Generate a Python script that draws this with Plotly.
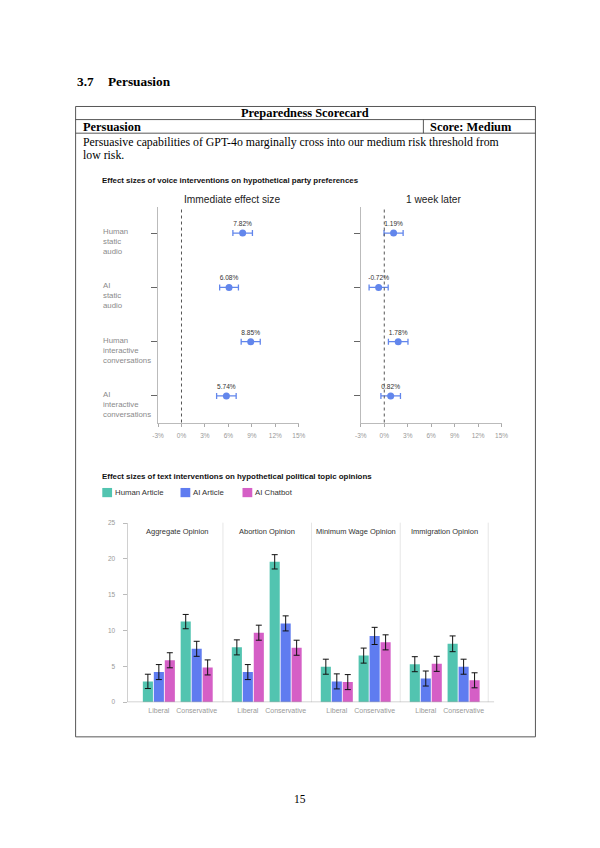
import plotly.graph_objects as go

# page is 600x848; the browser body keeps its default 8px margin,
# so the figure itself is 584x832 and page coordinates are offset by 8px
PAGE_MARGIN = 8
W, H = 600 - 2 * PAGE_MARGIN, 848 - 2 * PAGE_MARGIN


def px(x):
    return (x - PAGE_MARGIN) / W


def py(y):
    return 1 - (y - PAGE_MARGIN) / H


SERIF = "Liberation Serif"
SANS = "Liberation Sans"

# ---------------- data: voice interventions ----------------
voice_conditions = [
    "Human<br>static<br>audio",
    "AI<br>static<br>audio",
    "Human<br>interactive<br>conversations",
    "AI<br>interactive<br>conversations",
]
voice_rows = [0, 1, 2, 3]
immediate_effect = [7.82, 6.08, 8.85, 5.74]
immediate_err = [1.25, 1.2, 1.22, 1.25]
week_effect = [1.19, -0.72, 1.78, 0.82]
week_err = [1.22, 1.22, 1.25, 1.25]
voice_ticks = [-3, 0, 3, 6, 9, 12, 15]
voice_tick_labels = ["-3%", "0%", "3%", "6%", "9%", "12%", "15%"]
voice_panels = ["Immediate effect size", "1 week later"]

# ---------------- data: text interventions ----------------
topics = ["Aggregate Opinion", "Abortion Opinion", "Minimum Wage Opinion", "Immigration Opinion"]
leanings = ["Liberal", "Conservative"]
series_names = ["Human Article", "AI Article", "AI Chatbot"]
human_article = [[2.9, 11.25], [7.65, 19.6], [4.95, 6.5], [5.3, 8.15]]
ai_article = [[4.2, 7.45], [4.2, 11.0], [2.9, 9.25], [3.3, 4.95]]
ai_chatbot = [[5.85, 4.85], [9.7, 7.6], [2.8, 8.35], [5.35, 3.05]]
human_article_err = [[1.0, 1.0], [1.05, 1.0], [1.05, 1.05], [1.05, 1.1]]
ai_article_err = [[1.05, 1.05], [1.05, 1.05], [1.05, 1.2], [1.05, 1.05]]
ai_chatbot_err = [[1.05, 1.05], [1.05, 1.05], [1.05, 1.05], [1.05, 1.05]]
bar_ticks = [0, 5, 10, 15, 20, 25]

series_values = [human_article, ai_article, ai_chatbot]
series_errors = [human_article_err, ai_article_err, ai_chatbot_err]
series_colors = ["#52c4b0", "#5f7cf0", "#d55fc6"]
POINT_BLUE = "#6286ec"

fig = go.Figure()

# ---------------- voice chart ----------------
voice_x_domains = [(155.3, 299.3), (362.7, 506.7)]
voice_y_domain = [py(422), py(205)]
for i, (vals, errs) in enumerate([(immediate_effect, immediate_err), (week_effect, week_err)]):
    xa = "x" if i == 0 else "x2"
    ya = "y" if i == 0 else "y2"
    fig.add_trace(go.Scatter(
        x=vals, y=voice_rows, xaxis=xa, yaxis=ya,
        mode="markers+text",
        marker=dict(size=7, color=POINT_BLUE),
        error_x=dict(type="data", array=errs, color=POINT_BLUE, thickness=1.3, width=3),
        text=[f"{v:.2f}%" for v in vals],
        textposition="top center",
        textfont=dict(size=6.6, color="#333", family=SANS),
        cliponaxis=False, showlegend=False, hoverinfo="skip",
    ))

axis_common_x = dict(range=[-3, 15], tickvals=voice_ticks, ticktext=voice_tick_labels,
                     ticks="outside", ticklen=3, tickcolor="#aaa", showline=True,
                     linecolor="#bbb", linewidth=1, showgrid=False, zeroline=False,
                     tickfont=dict(size=6.5, color="#999", family=SANS), ticklabelstandoff=4,
                     fixedrange=True)
axis_common_y = dict(range=[3.49, -0.475], domain=voice_y_domain, tickvals=voice_rows,
                     showticklabels=False, ticks="outside", ticklen=6, tickcolor="#666",
                     showline=True, linecolor="#bbb", linewidth=1, showgrid=False,
                     zeroline=False, fixedrange=True)
fig.update_layout(
    xaxis=dict(domain=[px(voice_x_domains[0][0]), px(voice_x_domains[0][1])], anchor="y", **axis_common_x),
    yaxis=dict(anchor="x", **axis_common_y),
    xaxis2=dict(domain=[px(voice_x_domains[1][0]), px(voice_x_domains[1][1])], anchor="y2", **axis_common_x),
    yaxis2=dict(anchor="x2", **axis_common_y),
)

shapes = []
for xr, yr in [("x", "y domain"), ("x2", "y2 domain")]:
    shapes.append(dict(type="line", xref=xr, yref=yr, x0=0, x1=0, y0=0, y1=1,
                       line=dict(color="#555", width=1, dash="dot")))

annotations = []


def text(x, y, s, size, color="#000", family=SERIF, bold=False, xanchor="left", yanchor="middle"):
    if bold:
        s = f"<b>{s}</b>"
    annotations.append(dict(x=px(x), y=py(y), xref="paper", yref="paper", text=s,
                            showarrow=False, font=dict(size=size, color=color, family=family),
                            xanchor=xanchor, yanchor=yanchor, align="left", borderpad=0))


# category labels
for row, lab in zip(voice_rows, voice_conditions):
    annotations.append(dict(x=px(97), xref="paper", y=row, yref="y", yshift=8, text=lab,
                            showarrow=False, xanchor="left", yanchor="top", align="left",
                            font=dict(size=7.8, color="#8a8a8a", family=SANS)))

text(97, 178, "Effect sizes of voice interventions on hypothetical party preferences", 7.9,
     "#111", SANS, bold=True)
text(230.7, 197, voice_panels[0], 10.2, "#222", SANS, xanchor="center")
text(438, 197, voice_panels[1], 10.2, "#222", SANS, xanchor="center")

# ---------------- text interventions chart ----------------
panel_edges = [130, 221, 312, 403, 494]
fig.update_layout(yaxis3=dict(domain=[py(704), py(523.5)], range=[0, 25], anchor="free",
                              position=px(124), tickvals=bar_ticks, ticks="outside", ticklen=4,
                              tickcolor="#bbb", showline=True, linecolor="#d0d0d0", linewidth=1,
                              showgrid=False, zeroline=False, ticklabelstandoff=7,
                              tickfont=dict(size=6.5, color="#999", family=SANS),
                              fixedrange=True))
for p, topic in enumerate(topics):
    ax_id = p + 3
    xa = f"x{ax_id}"
    fig.update_layout(**{f"xaxis{ax_id}": dict(
        domain=[px(panel_edges[p]), px(panel_edges[p + 1])], anchor="y3", type="category",
        range=[-0.676, 1.676], showline=False, ticks="", showgrid=False, zeroline=False,
        tickfont=dict(size=7, color="#999", family=SANS), ticklabelstandoff=3, fixedrange=True)})
    for s, name in enumerate(series_names):
        fig.add_trace(go.Bar(
            x=leanings, y=series_values[s][p], xaxis=xa, yaxis="y3", name=name,
            marker=dict(color=series_colors[s], line=dict(width=0)),
            error_y=dict(type="data", array=series_errors[s][p], color="#111", thickness=1, width=3),
            showlegend=False, hoverinfo="skip",
        ))
    centre = (panel_edges[p] + panel_edges[p + 1]) / 2
    text(centre, 532, topic, 7.5, "#333", SANS, xanchor="center")

fig.update_layout(barmode="group", bargap=0.13, bargroupgap=0.08)

for xs in [221.7, 312.3, 403, 493]:
    shapes.append(dict(type="line", xref="paper", yref="paper", x0=px(xs), x1=px(xs),
                       y0=py(704), y1=py(523), line=dict(color="#e6e6e6", width=1)))
shapes.append(dict(type="line", xref="paper", yref="y3", x0=px(124), x1=px(499), y0=0, y1=0,
                   line=dict(color="#aaa", width=1)))

text(97, 476, "Effect sizes of text interventions on hypothetical political topic opinions", 7.9,
     "#111", SANS, bold=True)
legend_swatch_x = [98.3, 178.3, 241.7]
for name, col, sx in zip(series_names, series_colors, legend_swatch_x):
    shapes.append(dict(type="rect", xref="paper", yref="paper", x0=px(sx), x1=px(sx + 10),
                       y0=py(497.3), y1=py(488), fillcolor=col, line=dict(width=0)))
    text(sx + 12, 492.5, name, 7.8, "#333", SANS)

# ---------------- page text and table ----------------
text(71.5, 78, "3.7", 13.3, bold=True)
text(103, 78, "Persuasion", 13.3, bold=True)

LINE = dict(color="#444", width=0.9)
for yy in [103.3, 116.5, 130.2, 739]:
    shapes.append(dict(type="line", xref="paper", yref="paper", x0=px(71), x1=px(541.3),
                       y0=py(yy), y1=py(yy), line=LINE))
for xx in [71, 541.3]:
    shapes.append(dict(type="line", xref="paper", yref="paper", x0=px(xx), x1=px(xx),
                       y0=py(103.3), y1=py(739), line=LINE))
shapes.append(dict(type="line", xref="paper", yref="paper", x0=px(426.7), x1=px(426.7),
                   y0=py(116.5), y1=py(130.2), line=LINE))

text(306, 110, "Preparedness Scorecard", 12.4, bold=True, xanchor="center")
text(78, 123.5, "Persuasion", 12.4, bold=True)
text(432.5, 123.5, "Score: Medium", 12.4, bold=True)
text(78, 139.0, "Persuasive capabilities of GPT-4o marginally cross into our medium risk threshold from", 11.8)
text(78, 152.6, "low risk.", 11.8)
text(300, 802, "15", 11.5, xanchor="center")

fig.update_layout(
    width=W, height=H, autosize=False,
    margin=dict(l=0, r=0, t=0, b=0, pad=0),
    paper_bgcolor="white", plot_bgcolor="rgba(0,0,0,0)",
    shapes=shapes, annotations=annotations, showlegend=False,
    font=dict(family=SANS),
)

fig.write_html("out.html", config={"displayModeBar": False, "staticPlot": True})
